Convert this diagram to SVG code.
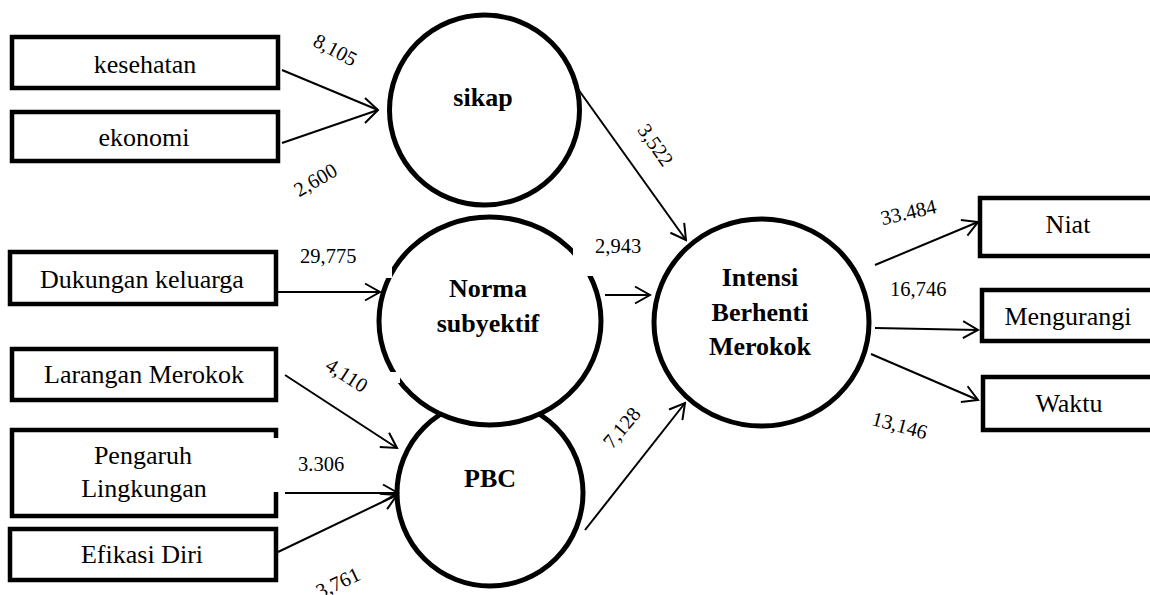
<svg xmlns="http://www.w3.org/2000/svg" width="1150" height="595" viewBox="0 0 1150 595">
<style>
.box{fill:#fff;stroke:#000;stroke-width:4.5}
.lat{fill:#fff;stroke:#000;stroke-width:5}
.t{font-family:"Liberation Serif","Times New Roman",serif;font-size:26px;fill:#000;text-anchor:middle}
.b{font-family:"Liberation Serif","Times New Roman",serif;font-size:26px;font-weight:bold;fill:#000;text-anchor:middle}
.n{font-family:"Liberation Serif","Times New Roman",serif;font-size:20.5px;fill:#000}
.nm{text-anchor:middle}
.c{stroke:#000;stroke-width:2;fill:none}
.cut{fill:#fff;stroke:none}
</style>
<defs>
<marker id="ah" markerUnits="userSpaceOnUse" viewBox="-18 -11 20 22" markerWidth="20" markerHeight="22" refX="0" refY="0" orient="auto">
<path d="M-15,-8.5 L0,0 L-15,8.5" fill="none" stroke="#000" stroke-width="2"/>
</marker>
</defs>
<rect width="1150" height="595" fill="#fff"/>

<g id="kesehatan"><rect class="box" x="12" y="37" width="266" height="51"/><text class="t" x="145" y="73">kesehatan</text></g>
<g id="ekonomi"><rect class="box" x="12" y="112" width="266" height="49"/><text class="t" x="144" y="146">ekonomi</text></g>
<g id="dukungan"><rect class="box" x="10" y="252" width="266" height="52"/><text class="t" x="142" y="288">Dukungan keluarga</text></g>
<g id="larangan"><rect class="box" x="12" y="349" width="264" height="51"/><text class="t" x="144" y="383">Larangan Merokok</text></g>
<g id="pengaruh"><path class="box" d="M276,438 L276,430 L12,430 L12,516 L276,516 L276,492"/><text class="t" x="143" y="464">Pengaruh</text><text class="t" x="144" y="497">Lingkungan</text></g>
<g id="efikasi"><rect class="box" x="10" y="529" width="266" height="51"/><text class="t" x="142" y="563">Efikasi Diri</text></g>

<g id="sikap"><circle class="lat" cx="484.5" cy="110" r="95"/><text class="b" x="483" y="106">sikap</text></g>
<g id="pbc"><circle class="lat" cx="490" cy="493" r="93"/><text class="b" x="490" y="487">PBC</text></g>
<g id="norma"><ellipse class="lat" cx="490" cy="321" rx="111" ry="104"/>
<rect class="cut" x="368" y="262" width="24" height="16"/>
<rect class="cut" x="368" y="372" width="32" height="11"/>
<rect class="cut" x="573" y="240" width="32" height="36"/>
<text class="b" x="488" y="297">Norma</text><text class="b" x="488" y="332">subyektif</text></g>
<g id="intensi"><ellipse class="lat" cx="761.5" cy="322.5" rx="107.5" ry="103.5"/><text class="b" x="760" y="286">Intensi</text><text class="b" x="760" y="321">Berhenti</text><text class="b" x="760" y="355">Merokok</text></g>

<g id="niat"><rect class="box" x="980" y="198" width="200" height="58"/><text class="t" x="1068" y="233">Niat</text></g>
<g id="mengurangi"><rect class="box" x="982" y="290" width="200" height="51"/><text class="t" x="1068" y="325">Mengurangi</text></g>
<g id="waktu"><rect class="box" x="983" y="377" width="200" height="53"/><text class="t" x="1069" y="412">Waktu</text></g>

<g id="connectors">
<line class="c" x1="282" y1="70" x2="378" y2="110"/>
<line class="c" x1="282" y1="143" x2="378" y2="110"/>
<path class="c" d="M365,98 L378,110 L365,123"/>
<line class="c" x1="573" y1="82" x2="686" y2="240" marker-end="url(#ah)"/>
<line class="c" x1="278" y1="292" x2="380" y2="292" marker-end="url(#ah)"/>
<line class="c" x1="605" y1="295" x2="650" y2="295" marker-end="url(#ah)"/>
<line class="c" x1="285" y1="375" x2="397" y2="448" marker-end="url(#ah)"/>
<line class="c" x1="285" y1="493" x2="398" y2="493" marker-end="url(#ah)"/>
<line class="c" x1="278" y1="552" x2="397" y2="495" marker-end="url(#ah)"/>
<line class="c" x1="585" y1="530" x2="685" y2="403" marker-end="url(#ah)"/>
<line class="c" x1="875" y1="265" x2="978" y2="222" marker-end="url(#ah)"/>
<line class="c" x1="875" y1="328" x2="978" y2="330" marker-end="url(#ah)"/>
<line class="c" x1="871" y1="354" x2="978" y2="400" marker-end="url(#ah)"/>
</g>

<g id="labels">
<text class="n nm" x="332" y="56" transform="rotate(28 332 56)">8,105</text>
<text class="n nm" x="319" y="186" transform="rotate(-30 319 186)">2,600</text>
<text class="n nm" x="650" y="149" transform="rotate(55 650 149)">3,522</text>
<text class="n" x="300" y="263">29,775</text>
<text class="n" x="595" y="253">2,943</text>
<text class="n nm" x="343" y="381" transform="rotate(33 343 381)">4,110</text>
<text class="n" x="298" y="471">3.306</text>
<text class="n nm" x="341" y="589" transform="rotate(-25 341 589)">3,761</text>
<text class="n nm" x="627" y="432" transform="rotate(-50 627 432)">7,128</text>
<text class="n nm" x="910" y="219" transform="rotate(-13 910 219)">33.484</text>
<text class="n" x="890" y="296">16,746</text>
<text class="n nm" x="898" y="432" transform="rotate(15 898 432)">13,146</text>
</g>
</svg>
